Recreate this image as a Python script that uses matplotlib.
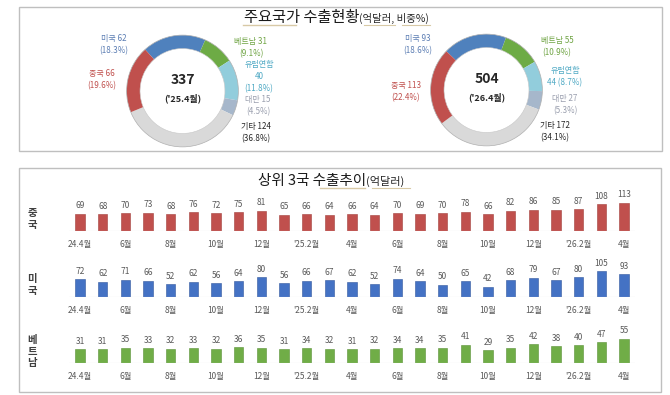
import matplotlib
matplotlib.use("Agg")
import matplotlib.pyplot as plt
from matplotlib.patches import Rectangle, Circle

plt.rcParams['font.family'] = ['Noto Sans CJK KR', 'DejaVu Sans']

W, H = 670, 395

# donut data (억달러, 비중%)
donut_names = ['미국', '베트남', '유럽연합', '대만', '기타', '중국']
export_2504 = [62, 31, 40, 15, 124, 66]
share_2504 = [18.3, 9.1, 11.8, 4.5, 36.8, 19.6]
export_2604 = [93, 55, 44, 27, 172, 113]
share_2604 = [18.6, 10.9, 8.7, 5.3, 34.1, 22.4]
totals = [337, 504]
total_labels = ["('25.4월)", "('26.4월)"]

# monthly trend 24.4 ~ 26.4
months = ['24.4월', '', '6월', '', '8월', '', '10월', '', '12월', '', "'25.2월", '',
          '4월', '', '6월', '', '8월', '', '10월', '', '12월', '', "'26.2월", '', '4월']
china = [69, 68, 70, 73, 68, 76, 72, 75, 81, 65, 66, 64,
         66, 64, 70, 69, 70, 78, 66, 82, 86, 85, 87, 108, 113]
usa = [72, 62, 71, 66, 52, 62, 56, 64, 80, 56, 66, 67,
       62, 52, 74, 64, 50, 65, 42, 68, 79, 67, 80, 105, 93]
vietnam = [31, 31, 35, 33, 32, 33, 32, 36, 35, 31, 34, 32,
           31, 32, 34, 34, 35, 41, 29, 35, 42, 38, 40, 47, 55]

seg_colors = ['#4F81BD', '#6DAB45', '#92CDDC', '#A6B7CB', '#D9D9D9', '#C0504D']
txt_colors = ['#5B7DB3', '#6FA443', '#4FA9C4', '#9A9FAE', '#262626', '#C0504D']


def px_axes(fig, x0, y0, x1, y1):
    return fig.add_axes([x0 / W, 1 - y1 / H, (x1 - x0) / W, (y1 - y0) / H])


fig = plt.figure(figsize=(6.7, 3.95), dpi=100)

# donuts
donut_centers = [(182.5, 91), (486.5, 90)]
start_angles = [132, 136]
R = 57
for (cx, cy), vals, start in zip(donut_centers, [export_2504, export_2604], start_angles):
    ax = px_axes(fig, cx - R, cy - R, cx + R, cy + R)
    ax.pie(vals, colors=seg_colors, startangle=start, counterclock=False, radius=1,
           wedgeprops=dict(width=0.24, edgecolor='none'))
    ax.add_patch(Circle((0, 0), 1, fill=False, ec='#B0B0B0', lw=0.5))
    ax.add_patch(Circle((0, 0), 0.76, fill=False, ec='#C8C8C8', lw=0.4))
    ax.set_xlim(-1.02, 1.02)
    ax.set_ylim(-1.02, 1.02)
    ax.axis('off')

# bar rows: (label, data, color, edge, baseline px, ymax, label y)
rows = [
    ('중\n국', china, '#C0504D', '#A33F3C', 230.7, 122, 219),
    ('미\n국', usa, '#4472C4', '#32589E', 296.7, 124, 285),
    ('베\n트\n남', vietnam, '#70AD47', '#5A9237', 363.3, 66.7, 351.5),
]
x_left, x_right = 68.7, 635.3
for name, vals, col, edge, base, ymax, ly in rows:
    ax = px_axes(fig, x_left, base - 30, x_right, base)
    ax.bar(range(len(vals)), vals, width=0.4, color=col, edgecolor=edge, lw=0.4)
    for i, v in enumerate(vals):
        ax.annotate(str(v), (i, v), xytext=(0, 2.5), textcoords='offset points',
                    ha='center', va='bottom', fontsize=6, color='#595959')
    ax.axhline(0, color='#D9D9D9', lw=0.8)
    ax.set_xlim(-0.5, len(vals) - 0.5)
    ax.set_ylim(0, ymax)
    ax.set_xticks(range(len(vals)))
    ax.set_xticklabels(months, fontsize=6, color='#595959')
    ax.tick_params(axis='x', length=0, pad=6.5)
    ax.set_yticks([])
    for s in ax.spines.values():
        s.set_visible(False)
    ax.patch.set_visible(False)
    fig.text(32 / W, 1 - ly / H, name, ha='center', va='center', fontsize=7.5,
             fontweight='bold', color='#404040', linespacing=1.15)

# overlay in pixel coords for frames and texts
ov = fig.add_axes([0, 0, 1, 1])
ov.set_xlim(0, W)
ov.set_ylim(H, 0)
ov.axis('off')

ov.add_patch(Rectangle((19, 7), 642.5, 144, fill=False, ec='#BFBFBF', lw=1))
ov.add_patch(Rectangle((19, 167.5), 642, 224, fill=False, ec='#BFBFBF', lw=1))

# titles
ov.text(359, 22, '주요국가 수출현황', ha='right', va='baseline', fontsize=11, color='#1A1A1A')
ov.text(359, 22, '(억달러, 비중%)', ha='left', va='baseline', fontsize=7.5, color='#262626')
ov.plot([243, 296], [25, 25], color='#D8C9A6', lw=1)
ov.plot([364, 395], [25, 25], color='#D8C9A6', lw=0.8)
ov.plot([402, 430], [25, 25], color='#D8C9A6', lw=0.8)

ov.text(366, 185, '상위 3국 수출추이', ha='right', va='baseline', fontsize=10.5, color='#1A1A1A')
ov.text(366, 185, '(억달러)', ha='left', va='baseline', fontsize=8, color='#262626')
ov.plot([320, 365], [188, 188], color='#D8C9A6', lw=1)
ov.plot([372, 410], [188, 188], color='#D8C9A6', lw=0.8)

# donut centre texts
for (cx, cy), tot, lab in zip(donut_centers, totals, total_labels):
    ov.text(cx, cy - 11, str(tot), ha='center', va='center', fontsize=10,
            fontweight='bold', color='#262626')
    ov.text(cx, cy + 7, lab, ha='center', va='center', fontsize=6.5,
            fontweight='bold', color='#262626')

# donut labels
label_pos = [
    [(114, 44.5), (251, 48), (259, 77), (258, 105.5), (256, 132.5), (102, 80)],
    [(418, 44.5), (557, 46.5), (565, 76.5), (565, 104.5), (555, 132), (406, 92)],
]
for d, (vals, shares) in enumerate([(export_2504, share_2504), (export_2604, share_2604)]):
    for k, name in enumerate(donut_names):
        if name == '유럽연합':
            if d == 0:
                s = f'{name}\n{vals[k]}\n({shares[k]}%)'
            else:
                s = f'{name}\n{vals[k]} ({shares[k]}%)'
        else:
            s = f'{name} {vals[k]}\n({shares[k]}%)'
        x, y = label_pos[d][k]
        ov.text(x, y, s, ha='center', va='center', fontsize=5.8, color=txt_colors[k],
                linespacing=1.45, multialignment='center')

fig.savefig('out.png', dpi=100)
